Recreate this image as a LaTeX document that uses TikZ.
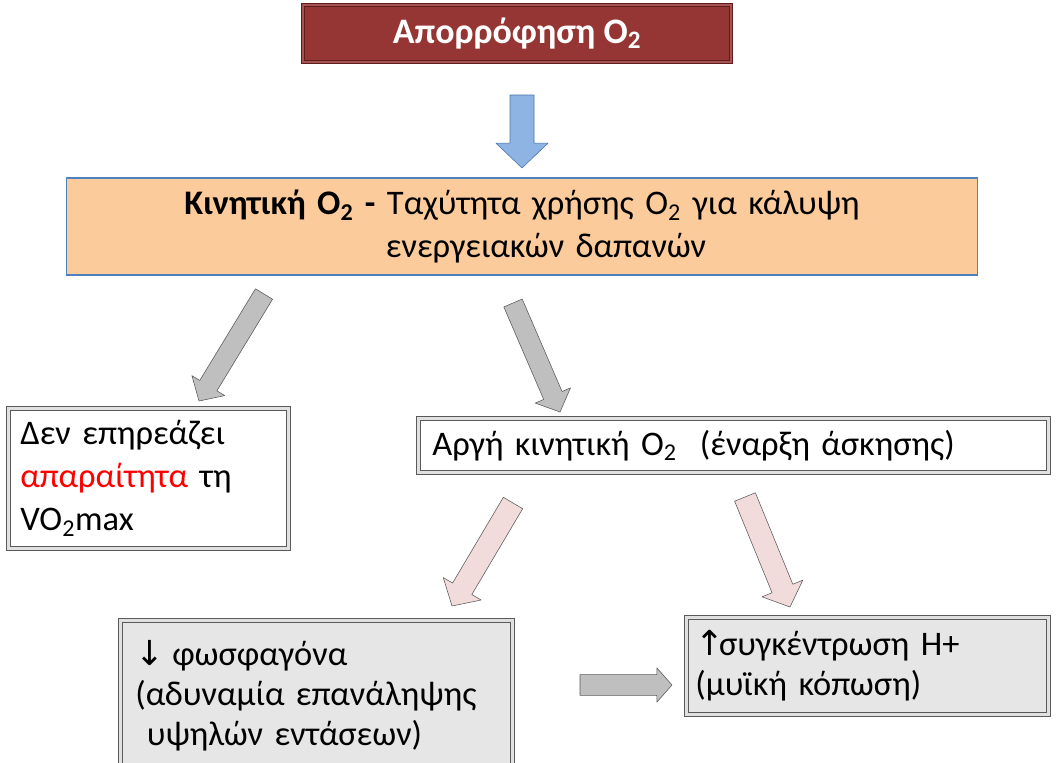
\documentclass[tikz,border=0pt]{standalone}
\usepackage{fontspec}
\setmainfont{Carlito}
\newfontfamily\arrowfont{DejaVu Sans}
\usetikzlibrary{positioning,calc}
\definecolor{oxRed}{RGB}{150,54,52}
\definecolor{oxRedDark}{RGB}{95,28,28}
\definecolor{kinOrange}{RGB}{252,203,155}
\definecolor{kinBlue}{RGB}{79,129,189}
\definecolor{arrBlue}{RGB}{142,180,227}
\definecolor{arrBlueDark}{RGB}{75,115,170}
\definecolor{arrGray}{RGB}{191,191,191}
\definecolor{arrPink}{RGB}{242,220,219}
\definecolor{boxGray}{RGB}{230,230,230}
\definecolor{frameGray}{RGB}{90,90,90}

% block arrow: style, tail, tip, shaft half-width, head half-width, head length
\newcommand{\blockarr}[6]{%
  \coordinate (ba) at ($(#3)!#6!(#2)$);
  \draw[#1, line join=round] ($(#2)!#4!90:(#3)$) -- ($(ba)!#4!-90:(#2)$) -- ($(ba)!#5!-90:(#2)$) -- (#3)
    -- ($(ba)!#5!90:(#2)$) -- ($(ba)!#4!90:(#2)$) -- ($(#2)!#4!-90:(#3)$) -- cycle;}

\begin{document}
\begin{tikzpicture}[x=0.025cm, y=-0.025cm,
  framed/.style={draw=frameGray, double=black!12, double distance=2.2pt, line width=0.5pt, anchor=north west, align=left},
  txt/.style={font=\fontsize{24.5}{28.4}\selectfont}]
  \clip (0,0) rectangle (1057,762);
  \fill[white] (0,0) rectangle (1057,762);

  % O2 uptake
  \node[fill=oxRed, draw=oxRedDark, line width=0.8pt, double=oxRed!85!white, double distance=1.5pt,
        minimum width=10.7cm, minimum height=1.425cm,
        text=white, font=\fontsize{25.5}{28}\selectfont\bfseries] (absorb) at (517,33.5) {Απορρόφηση O\textsubscript{2}};

  % O2 kinetics
  \node[fill=kinOrange, draw=kinBlue, line width=0.8pt, minimum width=22.75cm, minimum height=2.425cm,
        text width=21cm, align=center, font=\fontsize{24.5}{30}\selectfont] (kinetics) at (522,226.5)
        {\textbf{Κινητική O\textsubscript{2} -} Ταχύτητα χρήσης O\textsubscript{2} για κάλυψη\\ \hspace*{1.2cm}ενεργειακών δαπανών};

  % VO2max
  \node[framed, fill=white, minimum width=7cm, minimum height=3.5cm, text width=6.4cm, inner xsep=0.3cm,
        font=\fontsize{24.5}{30.5}\selectfont] (noEffect) at (8,408)
        {Δεν επηρεάζει\\ \textcolor{red}{απαραίτητα} τη\\ VO\textsubscript{2}max};

  % slow kinetics
  \node[framed, txt, fill=white, minimum width=15.75cm, minimum height=1.35cm, text width=15.05cm, inner xsep=0.35cm]
        (slowKin) at (418,418) {Αργή κινητική O\textsubscript{2}\ \ (έναρξη άσκησης)};

  % phosphagen
  \node[framed, txt, fill=boxGray, minimum width=9.8cm, text width=9.05cm, inner xsep=0.375cm, inner ysep=0.5cm]
        (phospho) at (120,620) {{\arrowfont ↓}\kern-0.1em\ φωσφαγόνα\\ (αδυναμία επανάληψης\\ \ υψηλών εντάσεων)};

  % H+ concentration
  \node[framed, txt, fill=boxGray, minimum width=9.05cm, minimum height=2.425cm, text width=8.6cm, inner xsep=0.2cm]
        (hydrogen) at (686,617) {{\arrowfont ↑}\kern-0.15em συγκέντρωση H+\\ (μυϊκή κόπωση)};

  % arrows
  \coordinate (blueT) at (522,95);   \coordinate (blueH) at (522,168);
  \coordinate (gLT) at (264,294);    \coordinate (gLH) at (199,401);
  \coordinate (gRT) at (513,303);    \coordinate (gRH) at (560,412);
  \coordinate (pLT) at (513,503);    \coordinate (pLH) at (452,606);
  \coordinate (pRT) at (745,497);    \coordinate (pRH) at (790,607);
  \coordinate (hT) at (580,685);     \coordinate (hH) at (672,685);

  \blockarr{fill=arrBlue, draw=arrBlueDark}{blueT}{blueH}{0.3cm}{0.65cm}{0.62cm}
  \blockarr{fill=arrGray, draw=frameGray}{gLT}{gLH}{0.25cm}{0.48cm}{0.45cm}
  \blockarr{fill=arrGray, draw=frameGray}{gRT}{gRH}{0.25cm}{0.48cm}{0.45cm}
  \blockarr{fill=arrPink, draw=frameGray}{pLT}{pLH}{0.28cm}{0.55cm}{0.5cm}
  \blockarr{fill=arrPink, draw=frameGray}{pRT}{pRH}{0.28cm}{0.55cm}{0.5cm}
  \blockarr{fill=arrGray, draw=frameGray}{hT}{hH}{0.26cm}{0.43cm}{0.38cm}
\end{tikzpicture}
\end{document}
